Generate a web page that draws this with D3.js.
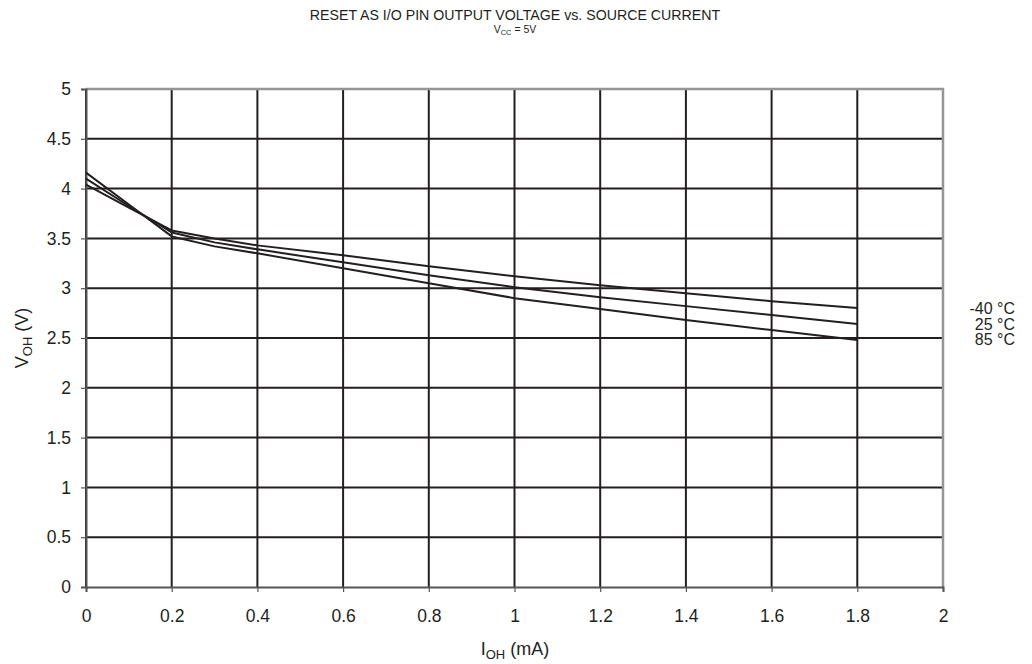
<!DOCTYPE html>
<html><head><meta charset="utf-8">
<script src="https://cdn.jsdelivr.net/npm/d3@7"></script>
<style>body{margin:0;background:#fff;} text{font-family:"Liberation Sans",Arial,sans-serif;fill:#231f20;}</style>
</head><body>
<svg id="c" width="1032" height="664"></svg>
<script>
const currents = [0, 0.1, 0.2, 0.3, 0.4, 0.6, 0.8, 1.0, 1.2, 1.4, 1.6, 1.8];
const vMinus40 = [4.04, 3.81, 3.58, 3.50, 3.43, 3.33, 3.22, 3.12, 3.03, 2.95, 2.87, 2.80];
const v25 = [4.10, 3.825, 3.56, 3.46, 3.39, 3.26, 3.13, 3.01, 2.91, 2.82, 2.73, 2.64];
const v85 = [4.16, 3.84, 3.52, 3.42, 3.35, 3.20, 3.05, 2.90, 2.79, 2.68, 2.58, 2.48];
const seriesNames = ["-40 °C", "25 °C", "85 °C"];
const xTicks = [0, 0.2, 0.4, 0.6, 0.8, 1, 1.2, 1.4, 1.6, 1.8, 2];
const yTicks = [0, 0.5, 1, 1.5, 2, 2.5, 3, 3.5, 4, 4.5, 5];

const svg = d3.select("#c");
const L = 86, R = 943, T = 89, B = 587;
const x = d3.scaleLinear().domain([0, 2]).range([L, R]);
const y = d3.scaleLinear().domain([0, 5]).range([B, T]);

// gridlines
const g = svg.append("g");
g.selectAll(".vg").data(xTicks.slice(0, -1)).enter().append("line")
  .attr("x1", d => x(d)).attr("x2", d => x(d)).attr("y1", T).attr("y2", B)
  .attr("stroke", "#231f20").attr("stroke-width", 2);
g.selectAll(".hg").data(yTicks.slice(1, -1)).enter().append("line")
  .attr("x1", L).attr("x2", R).attr("y1", d => y(d)).attr("y2", d => y(d))
  .attr("stroke", "#231f20").attr("stroke-width", 2);
// top and right border (grey)
svg.append("path").attr("d", `M${L},${T}H${R}V${B}`).attr("fill", "none")
  .attr("stroke", "#959595").attr("stroke-width", 2.5);

// axes
const xAxis = svg.append("g").attr("transform", `translate(0,${B})`)
  .call(d3.axisBottom(x).tickValues(xTicks).tickSize(5).tickPadding(18).tickFormat(d3.format("")));
const yAxis = svg.append("g").attr("transform", `translate(${L},0)`)
  .call(d3.axisLeft(y).tickValues(yTicks).tickSize(5).tickPadding(10).tickFormat(d3.format("")));
[xAxis, yAxis].forEach(a => {
  a.select(".domain").attr("stroke", "#555").attr("stroke-width", 2);
  a.selectAll(".tick line").attr("stroke", "#555").attr("stroke-width", 1.2);
  a.selectAll(".tick text").attr("font-size", 17.5).attr("fill", "#231f20")
    .attr("font-family", "Liberation Sans, Arial, sans-serif");
});

// curves
const line = d3.line().x((d, i) => x(currents[i])).y(d => y(d));
[vMinus40, v25, v85].forEach(s => {
  svg.append("path").datum(s).attr("d", line).attr("fill", "none")
    .attr("stroke", "#231f20").attr("stroke-width", 2).attr("stroke-linejoin", "round");
});

// titles
svg.append("text").attr("x", 515).attr("y", 20).attr("text-anchor", "middle")
  .attr("font-size", 14.2).text("RESET AS I/O PIN OUTPUT VOLTAGE vs. SOURCE CURRENT");
const sub = svg.append("text").attr("x", 515).attr("y", 33).attr("text-anchor", "middle").attr("font-size", 10.5);
sub.append("tspan").text("V");
sub.append("tspan").attr("font-size", 7.5).attr("dy", 2).text("CC");
sub.append("tspan").attr("dy", -2).text(" = 5V");

const xt = svg.append("text").attr("x", 515).attr("y", 655).attr("text-anchor", "middle").attr("font-size", 18);
xt.append("tspan").text("I");
xt.append("tspan").attr("font-size", 13).attr("dy", 4).text("OH");
xt.append("tspan").attr("dy", -4).text(" (mA)");

const yt = svg.append("text").attr("transform", `translate(28,${(T + B) / 2}) rotate(-90)`)
  .attr("text-anchor", "middle").attr("font-size", 18);
yt.append("tspan").text("V");
yt.append("tspan").attr("font-size", 13).attr("dy", 4).text("OH");
yt.append("tspan").attr("dy", -4).text(" (V)");

// legend labels
svg.selectAll(".lg").data(seriesNames).enter().append("text")
  .attr("x", 1015).attr("y", (d, i) => 314 + i * 15.5).attr("text-anchor", "end")
  .attr("font-size", 16).text(d => d);
</script>
</body></html>
